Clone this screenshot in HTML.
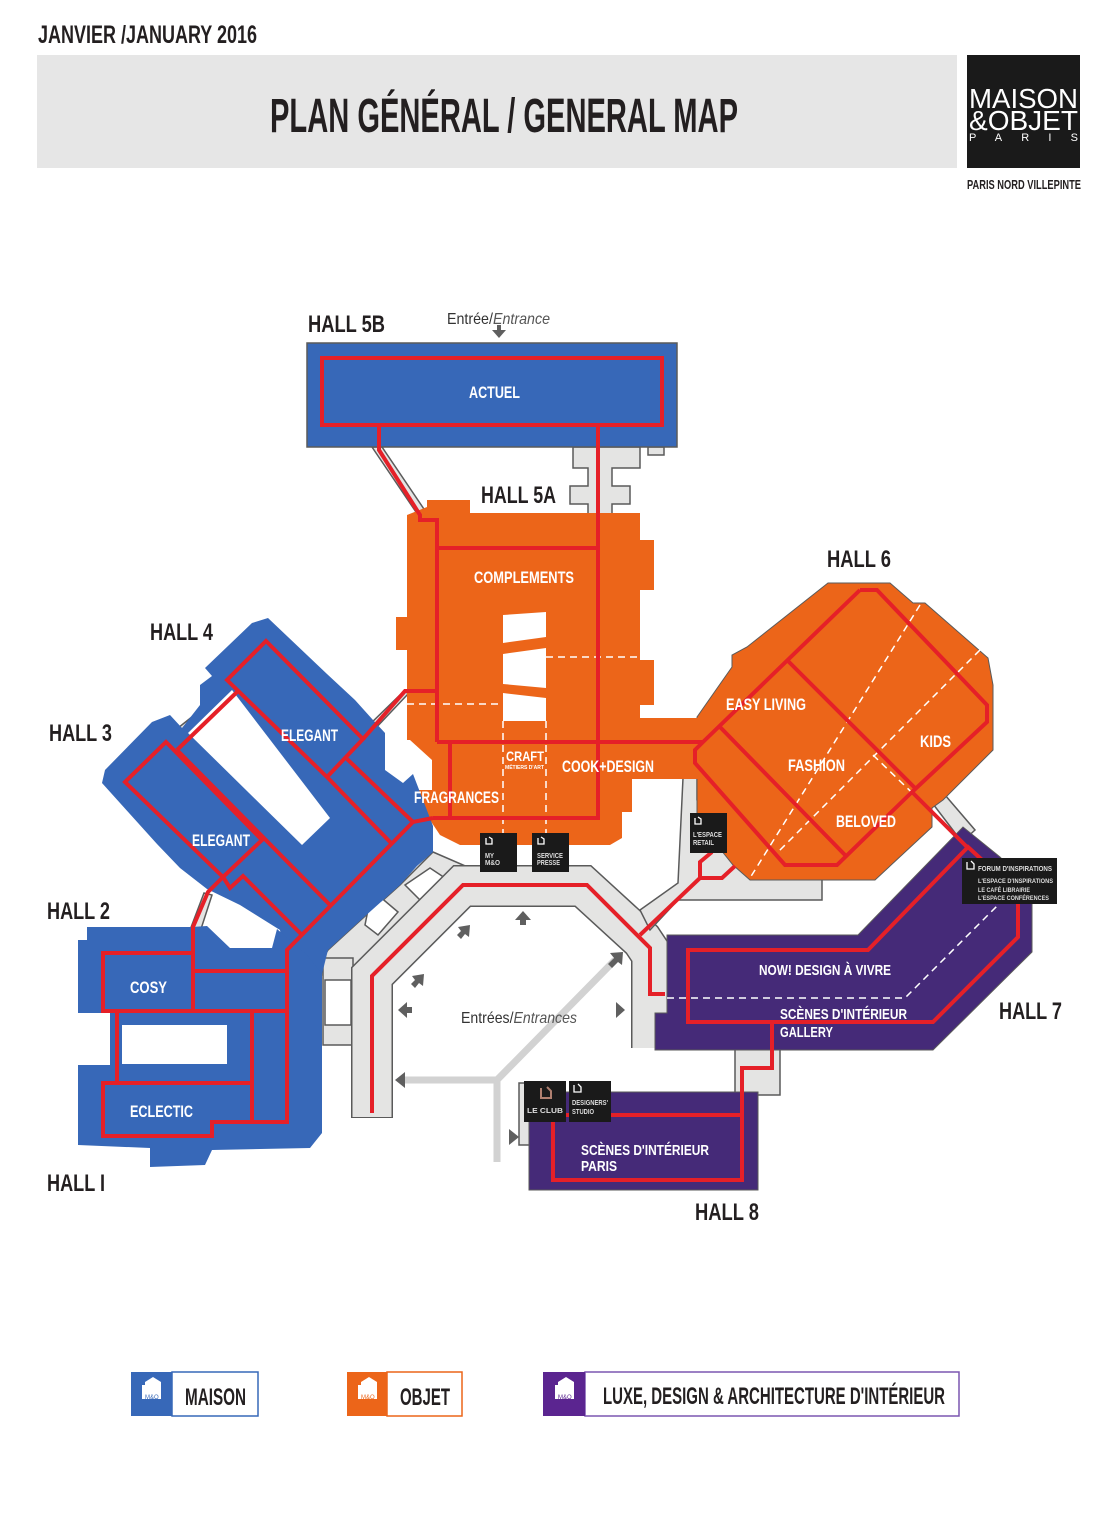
<!DOCTYPE html>
<html><head><meta charset="utf-8"><style>
html,body{margin:0;padding:0;background:#fff}
svg{display:block}
.n{font-family:"Liberation Sans Narrow","Liberation Sans",sans-serif;font-weight:bold}
.d{fill:#231f20}
.w{fill:#fff}
.g{stroke:#5a5a5a;stroke-width:1.5;fill:#e4e4e3}
.r{fill:none;stroke:#e52028;stroke-width:4;stroke-linejoin:miter}
.dash{fill:none;stroke:#fff;stroke-width:1.5;stroke-dasharray:7 5}
</style></head><body>
<svg width="1101" height="1536" viewBox="0 0 1101 1536" xmlns="http://www.w3.org/2000/svg">
<!-- header -->
<text class="n d" x="38" y="43" font-size="25" textLength="219" lengthAdjust="spacingAndGlyphs">JANVIER /JANUARY 2016</text>
<rect x="37" y="55" width="920" height="113" fill="#e6e6e6"/>
<text class="n d" x="270" y="132" font-size="48" textLength="468" lengthAdjust="spacingAndGlyphs">PLAN GÉNÉRAL / GENERAL MAP</text>
<rect x="967" y="55" width="113" height="113" fill="#1a1a1a"/>
<text x="969" y="108" font-family="Liberation Sans,sans-serif" font-size="28" fill="#fff" textLength="109" lengthAdjust="spacingAndGlyphs">MAISON</text>
<text x="969" y="130" font-family="Liberation Sans,sans-serif" font-size="28" fill="#fff" textLength="109" lengthAdjust="spacingAndGlyphs">&amp;OBJET</text>
<text x="969" y="141" font-family="Liberation Sans,sans-serif" font-size="11" fill="#fff" textLength="109" lengthAdjust="spacing">PARIS</text>
<text class="n d" x="967" y="189" font-size="13" textLength="114" lengthAdjust="spacingAndGlyphs">PARIS NORD VILLEPINTE</text>

<!-- gray corridors -->
<polygon class="g" points="573,447 640,447 640,468 612,468 612,486 630,486 630,504 612,504 612,515 588,515 588,504 570,504 570,486 588,486 588,468 573,468"/>
<rect class="g" x="648" y="447" width="16" height="8"/>
<polygon class="g" points="372,447 382,447 428,515 418,515"/>
<polygon class="g" points="433,852 470,868 400,935 352,968 352,975 323,975 323,958 328,950 363,918 400,885"/>
<polygon fill="#fff" stroke="#5a5a5a" stroke-width="1.5" points="405,885 430,868 448,880 422,902"/>
<polygon fill="#fff" stroke="#5a5a5a" stroke-width="1.5" points="372,890 398,912 378,935 365,925"/>
<rect class="g" x="323" y="958" width="30" height="87"/>
<rect x="325" y="980" width="26" height="45" fill="#fff" stroke="#5a5a5a" stroke-width="1.5"/>
<path d="M372,1118 L372,976 L462,886 L583,886 L642,940 L652,955 L652,1048" fill="none" stroke="#5a5a5a" stroke-width="42" stroke-linejoin="miter"/>
<path d="M372,1117 L372,976 L462,886 L583,886 L642,940 L652,955 L652,1048" fill="none" stroke="#e4e4e3" stroke-width="39" stroke-linejoin="miter"/>
<polygon class="g" points="683,778 697,778 697,800 745,870 822,870 822,900 678,900 650,930 640,910 678,883"/>
<polygon class="g" points="930,800 945,795 975,830 962,842"/>
<polygon class="g" points="735,1048 780,1048 780,1095 748,1095 748,1110 735,1110"/>
<rect class="g" x="519" y="1083" width="12" height="62"/>
<rect class="g" x="112" y="1011" width="10" height="72"/>
<polygon class="g" points="178,728 232,685 240,692 186,738"/>
<polygon class="g" points="190,930 204,893 212,895 200,932"/>
<polygon class="g" points="405,690 408,694 372,732 366,728"/>

<!-- light gray entrance paths -->
<g stroke="#d2d2d2" stroke-width="7" fill="none">
<path d="M615,960 L497,1080 L405,1080"/><path d="M497,1080 L497,1162"/>
</g>
<g fill="#5f5f5f">
<polygon points="523,911 531,920 526,920 526,925 520,925 520,920 515,920"/>
<polygon points="470,925 469,937 465,934 461,939 457,935 461,931 458,927"/>
<polygon points="424,974 423,986 419,983 415,988 411,984 415,980 412,976"/>
<polygon points="398,1010 407,1002 407,1007 412,1007 412,1013 407,1013 407,1018"/>
<polygon points="395,1080 405,1072 405,1088"/>
<polygon points="623,952 622,965 618,962 612,968 608,964 614,958 610,953"/>
<polygon points="625,1010 616,1002 616,1018"/>
<polygon points="519,1137 509,1129 509,1145"/>
<polygon points="499,338 506,330 501,330 501,325 497,325 497,330 492,330"/>
</g>

<!-- Hall 5B -->
<rect x="307" y="343" width="370" height="104" fill="#3768b8" stroke="#5a5a5a" stroke-width="1.5"/>
<!-- Hall 5A -->
<polygon fill="#ec6519" points="407,515 427,507 427,500 470,500 470,513 640,513 640,540 654,540 654,590 640,590 640,660 654,660 654,705 640,705 640,718 705,718 705,779 632,779 632,812 622,812 622,838 610,845 460,845 440,835 420,805 415,790 432,790 432,760 410,740 407,740 407,650 396,650 396,617 407,617"/>
<polygon fill="#fff" points="503,615 546,612 546,637 503,643"/>
<polygon fill="#fff" points="503,654 546,648 546,688 503,684"/>
<polygon fill="#fff" points="503,693 546,698 546,721 503,721"/>
<!-- Hall 6 -->
<polygon fill="#ec6519" stroke="#5a5a5a" stroke-width="1" points="828,583 890,583 913,603 925,603 988,658 993,685 993,750 943,800 932,808 932,827 875,880 750,880 733,865 697,820 697,717 732,667 732,655 747,647"/>
<rect x="690" y="718" width="20" height="61" fill="#ec6519"/>
<!-- Hall 7 -->
<polygon fill="#452a78" stroke="#5a5a5a" stroke-width="1" points="667,935 858,935 963,827 1000,857 1032,890 1032,952 933,1050 655,1050 655,1013 667,1013"/>
<!-- Hall 8 -->
<rect x="529" y="1092" width="229" height="98" fill="#452a78" stroke="#5a5a5a" stroke-width="1"/>
<!-- Halls 3/4 -->
<polygon fill="#3768b8" points="268,618 327,674 355,700 373,720 385,733 385,770 403,783 413,774 433,826 433,852 417,866 400,885 363,918 328,950 322,974 287,975 280,930 240,905 207,889 180,868 157,844 102,783 105,770 152,722 170,715 182,728 200,705 200,685 212,676 205,668 252,623"/>
<polygon fill="#fff" points="232,690 330,818 302,845 188,733"/>
<!-- Halls 1/2 -->
<polygon fill="#3768b8" points="87,927 192,927 207,926 230,948 272,948 277,929 307,955 322,974 322,1133 310,1148 212,1150 205,1165 150,1167 150,1148 78,1145 78,1065 110,1065 110,1013 78,1013 78,940 87,940"/>
<rect x="122" y="1025" width="105" height="39" fill="#fff"/>

<!-- dashed lines -->
<path class="dash" d="M546,657 L642,657 M407,704 L503,704 M503,721 L503,835 M546,721 L546,835"/>
<path class="dash" d="M920,605 L750,878 M980,650 L777,853 M873,755 L930,810"/>
<path class="dash" d="M667,998 L905,998 L1000,903"/>

<!-- red routes -->
<rect class="r" x="322" y="358" width="340" height="67"/>
<path class="r" d="M379,425 L379,450 L420,515 L420,520 L437,520 L437,742 M437,548 L598,548 M598,425 L598,818 L433,818 M437,742 L703,742 M450,742 L450,818 M437,691 L405,691 L363,739"/>
<path class="r" d="M266,641 L363,739 L327,777 L227,680 Z M237,692 L177,750 M347,759 L413,822 L433,818 M327,777 L392,844 M177,750 L330,905"/>
<path class="r" d="M166,742 L262,840 L223,877 L125,782 Z M413,822 L287,950 L287,1122 L212,1122 L212,1136 L103,1136 L103,1083 L252,1083 M262,840 L223,877 L230,888 L243,876 L302,935 M223,877 L208,892 L193,927 L193,1011"/>
<path class="r" d="M103,953 L193,953 L193,1011 L103,1011 Z M193,971 L287,971 M193,1011 L287,1011 M252,1011 L252,1122 M117,1011 L117,1083"/>
<path class="r" d="M860,590 L877,590 L987,705 L987,722 L912,792 M787,660 L915,788 M720,727 L845,855 M860,590 L703,742 L695,750 L695,763 L785,865 L837,865 L912,792 L967,847"/>
<path class="r" d="M640,935 L700,878 L700,862 L712,852 M700,878 L722,878 L735,866"/>
<path class="r" d="M372,1113 L372,976 L463,885 L587,885 L650,948 L650,994 L665,994"/>
<path class="r" d="M968,847 L1018,893 L1018,937 L933,1022 L688,1022 L688,950 L868,950 Z M772,1022 L772,1068 L742,1068 L742,1115"/>
<rect class="r" x="553" y="1115" width="189" height="65"/>

<!-- black info boxes -->
<g>
<rect x="480" y="833" width="37" height="39" fill="#1a1a1a"/>
<rect x="532" y="833" width="37" height="39" fill="#1a1a1a"/>
<rect x="690" y="813" width="37" height="40" fill="#1a1a1a"/>
<rect x="962" y="858" width="95" height="46" fill="#1a1a1a"/>
<rect x="524" y="1081" width="42" height="41" fill="#1a1a1a"/>
<rect x="569" y="1081" width="42" height="41" fill="#1a1a1a"/>
</g>
<g class="n" fill="#ddd" font-size="7" lengthAdjust="spacingAndGlyphs">
<text x="485" y="858" textLength="9" lengthAdjust="spacingAndGlyphs">MY</text><text x="485" y="865" textLength="15" lengthAdjust="spacingAndGlyphs">M&amp;O</text>
<text x="537" y="858" textLength="26" lengthAdjust="spacingAndGlyphs">SERVICE</text><text x="537" y="865" textLength="23" lengthAdjust="spacingAndGlyphs">PRESSE</text>
<text x="693" y="837" textLength="29" lengthAdjust="spacingAndGlyphs">L'ESPACE</text><text x="693" y="845" textLength="21" lengthAdjust="spacingAndGlyphs">RETAIL</text>
<text x="978" y="871" font-size="7.5" textLength="74" lengthAdjust="spacingAndGlyphs">FORUM D'INSPIRATIONS</text>
<text x="978" y="883" font-size="6" textLength="75" lengthAdjust="spacingAndGlyphs">L'ESPACE D'INSPIRATIONS</text>
<text x="978" y="892" font-size="6" textLength="52" lengthAdjust="spacingAndGlyphs">LE CAFÉ LIBRAIRIE</text>
<text x="978" y="900" font-size="6" textLength="71" lengthAdjust="spacingAndGlyphs">L'ESPACE CONFÉRENCES</text>
<text x="527" y="1113" font-size="7" font-family="Liberation Sans,sans-serif" textLength="36" lengthAdjust="spacingAndGlyphs">LE CLUB</text>
<text x="572" y="1105" textLength="36" lengthAdjust="spacingAndGlyphs">DESIGNERS'</text><text x="572" y="1114" textLength="22" lengthAdjust="spacingAndGlyphs">STUDIO</text>
</g>
<g fill="none" stroke="#fff" stroke-width="1.3">
<path d="M486,838 v6 h6 v-5 l-3,-2"/><path d="M538,838 v6 h6 v-5 l-3,-2"/><path d="M695,818 v6 h6 v-5 l-3,-2"/>
<path d="M967,862 v7 h7 v-5 l-3,-3"/><path d="M574,1085 v7 h7 v-5 l-3,-3"/>
<path d="M541,1088 v10 h10 v-7 l-4,-4" stroke="#b08070" stroke-width="2"/>
</g>

<!-- hall labels -->
<g class="n d" font-size="24">
<text x="308" y="332" textLength="77" lengthAdjust="spacingAndGlyphs">HALL 5B</text>
<text x="481" y="503" textLength="75" lengthAdjust="spacingAndGlyphs">HALL 5A</text>
<text x="827" y="567" textLength="64" lengthAdjust="spacingAndGlyphs">HALL 6</text>
<text x="150" y="640" textLength="63" lengthAdjust="spacingAndGlyphs">HALL 4</text>
<text x="49" y="741" textLength="63" lengthAdjust="spacingAndGlyphs">HALL 3</text>
<text x="47" y="919" textLength="63" lengthAdjust="spacingAndGlyphs">HALL 2</text>
<text x="47" y="1191" textLength="58" lengthAdjust="spacingAndGlyphs">HALL I</text>
<text x="999" y="1019" textLength="63" lengthAdjust="spacingAndGlyphs">HALL 7</text>
<text x="695" y="1220" textLength="64" lengthAdjust="spacingAndGlyphs">HALL 8</text>
</g>
<text x="447" y="324" font-family="Liberation Sans Narrow,Liberation Sans,sans-serif" font-size="16" fill="#333" textLength="103" lengthAdjust="spacingAndGlyphs">Entrée/<tspan font-style="italic" fill="#555">Entrance</tspan></text>
<text x="461" y="1023" font-family="Liberation Sans Narrow,Liberation Sans,sans-serif" font-size="16" fill="#333" textLength="116" lengthAdjust="spacingAndGlyphs">Entrées/<tspan font-style="italic" fill="#555">Entrances</tspan></text>

<!-- section labels -->
<g class="n w" font-size="17">
<text x="469" y="398" textLength="51" lengthAdjust="spacingAndGlyphs">ACTUEL</text>
<text x="474" y="583" textLength="100" lengthAdjust="spacingAndGlyphs">COMPLEMENTS</text>
<text x="281" y="741" textLength="57" lengthAdjust="spacingAndGlyphs">ELEGANT</text>
<text x="192" y="846" textLength="58" lengthAdjust="spacingAndGlyphs">ELEGANT</text>
<text x="414" y="803" textLength="85" lengthAdjust="spacingAndGlyphs">FRAGRANCES</text>
<text x="506" y="761" font-size="14" textLength="38" lengthAdjust="spacingAndGlyphs">CRAFT</text>
<text x="562" y="772" textLength="92" lengthAdjust="spacingAndGlyphs">COOK+DESIGN</text>
<text x="726" y="710" textLength="80" lengthAdjust="spacingAndGlyphs">EASY LIVING</text>
<text x="788" y="771" textLength="57" lengthAdjust="spacingAndGlyphs">FASHION</text>
<text x="920" y="747" textLength="31" lengthAdjust="spacingAndGlyphs">KIDS</text>
<text x="836" y="827" textLength="60" lengthAdjust="spacingAndGlyphs">BELOVED</text>
<text x="130" y="993" textLength="37" lengthAdjust="spacingAndGlyphs">COSY</text>
<text x="130" y="1117" textLength="63" lengthAdjust="spacingAndGlyphs">ECLECTIC</text>
<text x="759" y="975" font-size="15" textLength="132" lengthAdjust="spacingAndGlyphs">NOW! DESIGN À VIVRE</text>
<text x="780" y="1019" font-size="15" textLength="127" lengthAdjust="spacingAndGlyphs">SCÈNES D'INTÉRIEUR</text>
<text x="780" y="1037" font-size="15" textLength="53" lengthAdjust="spacingAndGlyphs">GALLERY</text>
<text x="581" y="1155" font-size="15" textLength="128" lengthAdjust="spacingAndGlyphs">SCÈNES D'INTÉRIEUR</text>
<text x="581" y="1171" font-size="15" textLength="36" lengthAdjust="spacingAndGlyphs">PARIS</text>
</g>
<text class="n w" x="505" y="769" font-size="5" textLength="39" lengthAdjust="spacingAndGlyphs">MÉTIERS D'ART</text>

<!-- legend -->
<rect x="172" y="1372" width="86" height="44" fill="#fff" stroke="#3768b8" stroke-width="1.5"/>
<rect x="131" y="1372" width="41" height="44" fill="#3768b8"/>
<rect x="387" y="1372" width="75" height="44" fill="#fff" stroke="#ec6519" stroke-width="1.5"/>
<rect x="347" y="1372" width="40" height="44" fill="#ec6519"/>
<rect x="585" y="1372" width="374" height="44" fill="#fff" stroke="#7b56b0" stroke-width="1.5"/>
<rect x="543" y="1372" width="42" height="44" fill="#5b2590"/>
<g fill="#fff">
<path d="M142,1385 h3 v-3 l8,-5 l8,5 v17 h-19z"/>
<path d="M358,1385 h3 v-3 l8,-5 l8,5 v17 h-19z"/>
<path d="M555,1385 h3 v-3 l8,-5 l8,5 v17 h-19z"/>
</g>
<g font-family="Liberation Sans,sans-serif" font-size="6">
<text x="145" y="1399" fill="#3768b8">M&amp;O</text>
<text x="361" y="1399" fill="#ec6519">M&amp;O</text>
<text x="558" y="1399" fill="#5b2590">M&amp;O</text>
</g>
<g class="n d" font-size="24" font-weight="normal">
<text x="185" y="1405" textLength="61" lengthAdjust="spacingAndGlyphs">MAISON</text>
<text x="400" y="1405" textLength="50" lengthAdjust="spacingAndGlyphs">OBJET</text>
<text x="603" y="1404" textLength="342" lengthAdjust="spacingAndGlyphs">LUXE, DESIGN &amp; ARCHITECTURE D'INTÉRIEUR</text>
</g>
</svg>
</body></html>
